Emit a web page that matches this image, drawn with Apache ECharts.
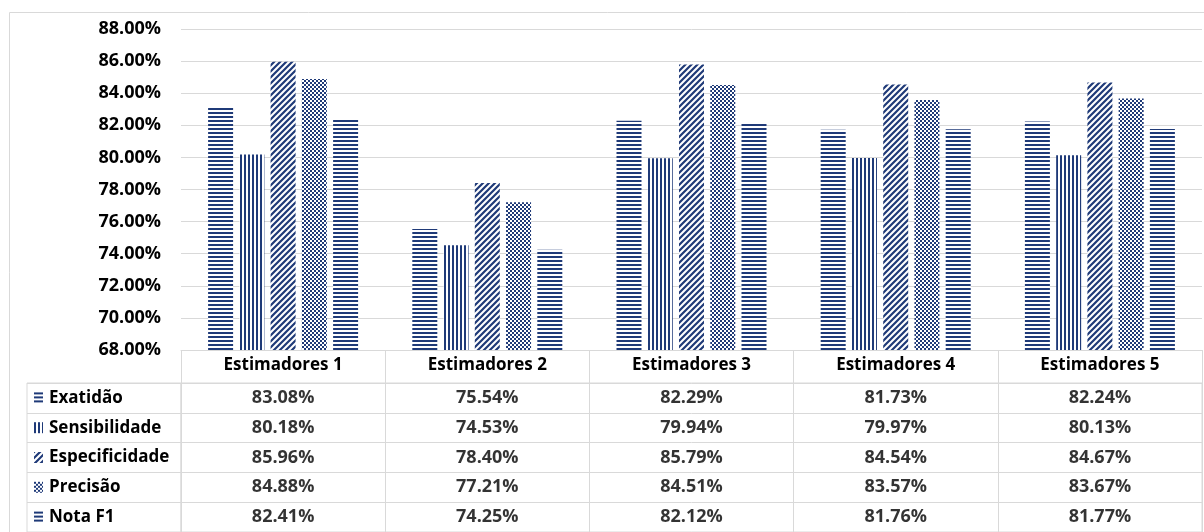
<!DOCTYPE html>
<html>
<head>
<meta charset="utf-8">
<script src="https://cdn.jsdelivr.net/npm/echarts@6/dist/echarts.min.js"></script>
<style>
  html, body { margin: 0; padding: 0; background: #fff; }
  #chart { width: 1204px; height: 532px; }
</style>
</head>
<body>
<div id="chart"></div>
<script>
// categorias e séries
const categories = ['Estimadores 1', 'Estimadores 2', 'Estimadores 3', 'Estimadores 4', 'Estimadores 5'];
const seriesNames = ['Exatidão', 'Sensibilidade', 'Especificidade', 'Precisão', 'Nota F1'];
const exatidao = [83.08, 75.54, 82.29, 81.73, 82.24];
const sensibilidade = [80.18, 74.53, 79.94, 79.97, 80.13];
const especificidade = [85.96, 78.40, 85.79, 84.54, 84.67];
const precisao = [84.88, 77.21, 84.51, 83.57, 83.67];
const notaF1 = [82.41, 74.25, 82.12, 81.76, 81.77];
const yTicks = [68, 70, 72, 74, 76, 78, 80, 82, 84, 86, 88];

const values = [exatidao, sensibilidade, especificidade, precisao, notaF1];
const NAVY = '#1f3a78';
const GRID_LINE = '#d9d9d9';
const FONT = 'Open Sans';
const FS = 17;
const FS_NUM = 18;

// padrões (hachuras) desenhados em pequenos canvas
function drawPattern(ctx, kind, w, h) {
  ctx.fillStyle = '#fff';
  ctx.fillRect(0, 0, w, h);
  ctx.fillStyle = NAVY;
  ctx.strokeStyle = NAVY;
  if (kind === 'hor') {
    for (let y = 0; y < h; y += 4) ctx.fillRect(0, y, w, 2);
  } else if (kind === 'ver') {
    for (let x = 0; x < w; x += 4) ctx.fillRect(x, 0, 2, h);
  } else if (kind === 'check') {
    for (let y = 0; y < h; y += 2) {
      for (let x = (y / 2) % 2 * 2; x < w; x += 4) ctx.fillRect(x, y, 2, 2);
    }
  } else if (kind === 'diag') {
    ctx.lineWidth = 2.2;
    ctx.beginPath();
    for (let k = -h; k < w + h; k += 6) {
      ctx.moveTo(k - 6, h + 6);
      ctx.lineTo(k + h + 6, -6);
    }
    ctx.stroke();
  }
}
function makePattern(kind) {
  const c = document.createElement('canvas');
  const size = kind === 'diag' ? 6 : 4;
  c.width = size; c.height = size;
  const ctx = c.getContext('2d');
  if (kind === 'diag') {
    // linha diagonal periódica no ladrilho 6x6
    ctx.fillStyle = '#fff';
    ctx.fillRect(0, 0, size, size);
    ctx.strokeStyle = NAVY;
    ctx.lineWidth = 2.2;
    ctx.beginPath();
    ctx.moveTo(-1, 7); ctx.lineTo(7, -1);
    ctx.moveTo(-4, 4); ctx.lineTo(4, -4);
    ctx.moveTo(2, 10); ctx.lineTo(10, 2);
    ctx.stroke();
  } else {
    drawPattern(ctx, kind, size, size);
  }
  return c;
}
function makeIcon(kind) {
  const c = document.createElement('canvas');
  c.width = 9; c.height = 11;
  drawPattern(c.getContext('2d'), kind, 9, 11);
  return c;
}
const patternKinds = ['hor', 'ver', 'diag', 'check', 'hor'];
const patterns = patternKinds.map(makePattern);
const icons = patternKinds.map(makeIcon);

const iconRich = {};
icons.forEach((p, i) => {
  iconRich['i' + i] = { width: 9, height: 11, backgroundColor: { image: p } };
});
iconRich.name = { fontFamily: FONT, fontWeight: 'bold', fontSize: FS, color: '#000', padding: [0, 0, 0, 6] };

const myChart = echarts.init(document.getElementById('chart'));

const barSeries = seriesNames.map((name, i) => ({
  name: name,
  type: 'bar',
  xAxisIndex: 0,
  yAxisIndex: 0,
  barWidth: 25,
  barGap: '25%',
  itemStyle: { color: { image: patterns[i], repeat: 'repeat' } },
  data: values[i]
}));

// valores da tabela de dados
const tableData = [];
values.forEach((row, r) => {
  row.forEach((v, c) => tableData.push([c, r, v]));
});

const option = {
  animation: false,
  graphic: [{
    type: 'rect',
    left: 7, top: 10,
    shape: { width: 1210, height: 540 },
    style: { fill: 'none', stroke: GRID_LINE, lineWidth: 1 },
    silent: true
  }],
  grid: [
    { left: 181, right: 2, top: 29, bottom: 182, outerBoundsMode: 'none' },
    { left: 181, right: 2, top: 383, bottom: 0, show: true, borderColor: GRID_LINE, borderWidth: 1, outerBoundsMode: 'none' },
    { left: 27, width: 154, top: 383, bottom: 0, show: true, borderColor: GRID_LINE, borderWidth: 1, outerBoundsMode: 'none' }
  ],
  xAxis: [
    {
      type: 'category', gridIndex: 0, data: categories,
      axisLine: { lineStyle: { color: GRID_LINE } },
      axisTick: { show: true, length: 33, interval: 0, lineStyle: { color: GRID_LINE } },
      axisLabel: { margin: 7, fontFamily: FONT, fontWeight: 'bold', fontSize: FS, color: '#000' }
    },
    {
      type: 'category', gridIndex: 1, data: categories,
      axisLine: { show: false }, axisTick: { show: false }, axisLabel: { show: false },
      splitLine: { show: true, interval: 0, lineStyle: { color: GRID_LINE } }
    },
    { type: 'value', gridIndex: 2, show: false }
  ],
  yAxis: [
    {
      type: 'value', gridIndex: 0, min: yTicks[0], max: yTicks[yTicks.length - 1], interval: 2,
      axisLine: { show: false }, axisTick: { show: false },
      splitLine: { lineStyle: { color: GRID_LINE } },
      axisLabel: {
        margin: 20, fontFamily: FONT, fontWeight: 'bold', fontSize: FS_NUM, color: '#000',
        formatter: v => v.toFixed(2) + '%'
      }
    },
    {
      type: 'category', gridIndex: 1, data: seriesNames, inverse: true,
      axisLine: { show: false }, axisTick: { show: false }, axisLabel: { show: false },
      splitLine: { show: true, interval: 0, lineStyle: { color: GRID_LINE } }
    },
    {
      type: 'category', gridIndex: 2, data: seriesNames, inverse: true,
      axisLine: { show: false }, axisTick: { show: false },
      splitLine: { show: true, interval: 0, lineStyle: { color: GRID_LINE } },
      axisLabel: {
        inside: true, margin: 7, interval: 0,
        formatter: (v, idx) => '{i' + idx + '|}{name|' + v + '}',
        rich: iconRich
      }
    }
  ],
  series: barSeries.concat([{
    type: 'scatter',
    xAxisIndex: 1,
    yAxisIndex: 1,
    symbolSize: 1,
    itemStyle: { color: 'rgba(0,0,0,0)' },
    silent: true,
    label: {
      show: true, position: 'inside',
      fontFamily: FONT, fontWeight: 'bold', fontSize: FS_NUM, color: '#000',
      formatter: p => p.value[2].toFixed(2) + '%'
    },
    data: tableData
  }])
};

myChart.setOption(option);
window.onresize = function() {
  myChart.resize();
};
</script>
</body>
</html>
